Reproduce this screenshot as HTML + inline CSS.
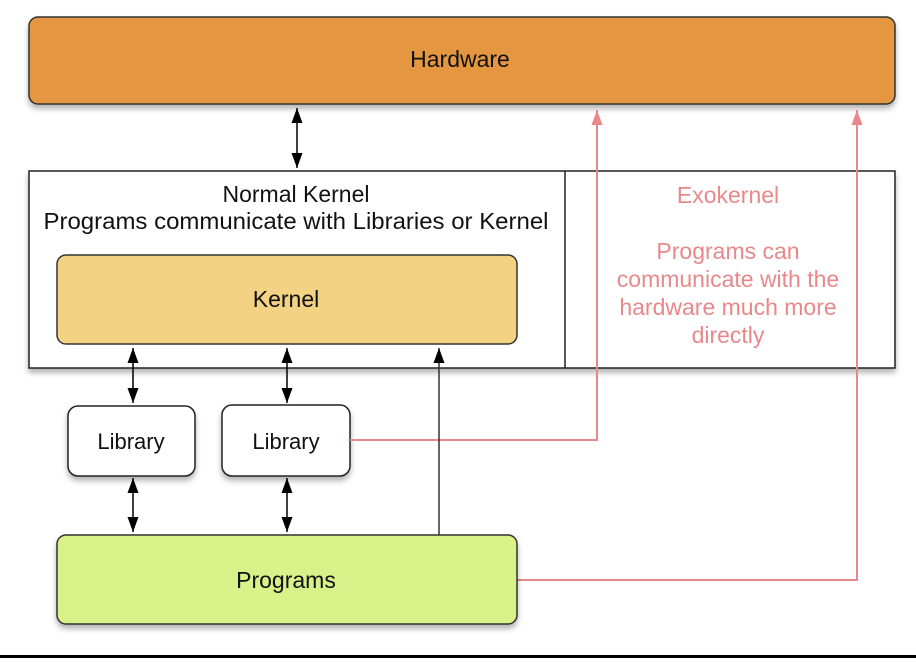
<!DOCTYPE html>
<html><head><meta charset="utf-8"><style>
body{margin:0;width:916px;height:658px;background:#fff;overflow:hidden;font-family:"Liberation Sans",sans-serif}
</style></head><body>
<svg width="916" height="658" viewBox="0 0 916 658" xmlns="http://www.w3.org/2000/svg" font-family="Liberation Sans, sans-serif">
<defs>
<filter id="sh" x="-5%" y="-5%" width="110%" height="130%"><feDropShadow dx="0" dy="4" stdDeviation="3" flood-color="#000" flood-opacity="0.3"/></filter>
<marker id="ab" markerWidth="16" markerHeight="12" refX="15" refY="6" orient="auto-start-reverse" markerUnits="userSpaceOnUse"><path d="M0,0.5 L15,6 L0,11.5 Z" fill="#000"/></marker>
<marker id="ar" markerWidth="16" markerHeight="12" refX="15" refY="6" orient="auto-start-reverse" markerUnits="userSpaceOnUse"><path d="M0,0.5 L15,6 L0,11.5 Z" fill="#E8888A"/></marker>
</defs>
<rect x="29" y="17" width="866" height="87" rx="9" fill="#E5963F" stroke="#333" stroke-width="1.5" filter="url(#sh)"/>
<text x="460" y="67" font-size="23" text-anchor="middle" fill="#111">Hardware</text>
<rect x="29" y="171" width="866" height="197" fill="#fff" stroke="#222" stroke-width="1.5" filter="url(#sh)"/>
<line x1="565" y1="171" x2="565" y2="368" stroke="#222" stroke-width="1.5"/>
<text x="296" y="202" font-size="23" text-anchor="middle" fill="#111">Normal Kernel</text>
<text x="296" y="229" font-size="23" text-anchor="middle" fill="#111" textLength="505" lengthAdjust="spacingAndGlyphs">Programs communicate with Libraries or Kernel</text>
<g fill="#E8888A" font-size="23" text-anchor="middle">
<text x="728" y="203">Exokernel</text>
<text x="728" y="259">Programs can</text>
<text x="728" y="287">communicate with the</text>
<text x="728" y="315">hardware much more</text>
<text x="728" y="343">directly</text>
</g>
<rect x="57" y="255" width="460" height="89" rx="9" fill="#F3D283" stroke="#333" stroke-width="1.5"/>
<text x="286" y="307" font-size="23" text-anchor="middle" fill="#111">Kernel</text>
<line x1="297" y1="108" x2="297" y2="168" stroke="#000" stroke-width="1.5" marker-start="url(#ab)" marker-end="url(#ab)"/>
<line x1="133" y1="348" x2="133" y2="403" stroke="#000" stroke-width="1.5" marker-start="url(#ab)" marker-end="url(#ab)"/>
<line x1="287" y1="348" x2="287" y2="403" stroke="#000" stroke-width="1.5" marker-start="url(#ab)" marker-end="url(#ab)"/>
<line x1="133" y1="478" x2="133" y2="532" stroke="#000" stroke-width="1.5" marker-start="url(#ab)" marker-end="url(#ab)"/>
<line x1="287" y1="478" x2="287" y2="532" stroke="#000" stroke-width="1.5" marker-start="url(#ab)" marker-end="url(#ab)"/>
<rect x="68" y="406" width="127" height="70" rx="10" fill="#fff" stroke="#222" stroke-width="1.5" filter="url(#sh)"/>
<text x="131" y="449" font-size="22" text-anchor="middle" fill="#111">Library</text>
<rect x="222" y="405" width="128" height="71" rx="10" fill="#fff" stroke="#222" stroke-width="1.5" filter="url(#sh)"/>
<text x="286" y="449" font-size="22" text-anchor="middle" fill="#111">Library</text>
<polyline points="350,440 597,440 597,110" fill="none" stroke="#E8888A" stroke-width="2" marker-end="url(#ar)"/>
<polyline points="517,580 857,580 857,110" fill="none" stroke="#E8888A" stroke-width="2" marker-end="url(#ar)"/>
<line x1="439" y1="535" x2="439" y2="348" stroke="#333" stroke-width="1.5" marker-end="url(#ab)"/>
<rect x="57" y="535" width="460" height="89" rx="9" fill="#D9F189" stroke="#333" stroke-width="1.5" filter="url(#sh)"/>
<text x="286" y="588" font-size="23" text-anchor="middle" fill="#111">Programs</text>
<rect x="0" y="655" width="916" height="3" fill="#000"/>
</svg>
</body></html>
